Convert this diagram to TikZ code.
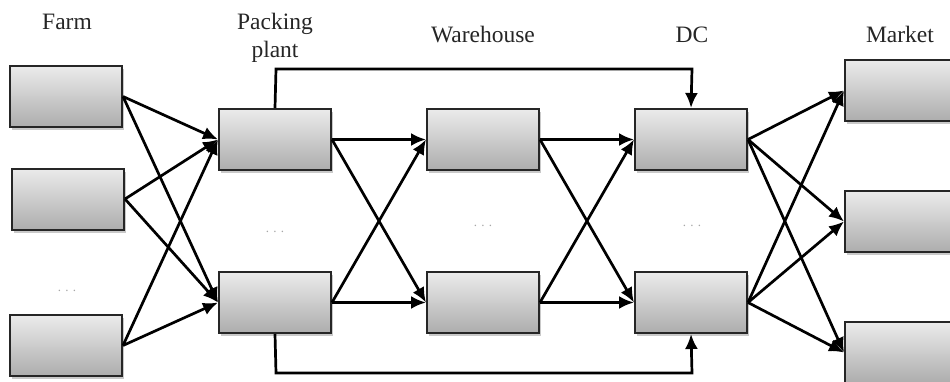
\documentclass[tikz,border=0pt]{standalone}
\usepackage{fontspec}
\setmainfont{Liberation Serif}
\usetikzlibrary{arrows.meta,shadows}
\begin{document}
\begin{tikzpicture}[x=1pt,y=-1pt,
  box/.style={draw=black!85,line width=2pt,minimum width=112pt,minimum height=61pt,inner sep=0pt,
    top color=black!8,bottom color=black!32,
    drop shadow={shadow xshift=1.5pt,shadow yshift=-3pt,opacity=0.35,fill=black!60}},
  lab/.style={font=\fontsize{23.5}{28}\selectfont,anchor=base,inner sep=0pt,text=black!85},
  dots/.style={font=\fontsize{13}{13}\selectfont,text=black!35,inner sep=0pt},
  arr/.style={line width=2.7pt,-{Latex[length=15pt,width=13pt]}},
  lnk/.style={line width=2.7pt}]
\clip (0,0) rectangle (950,381);
\fill[white] (0,0) rectangle (950,381);
% labels
\node[lab] (lfarm) at (67,29) {Farm};
\node[lab] (lpack) at (275,29) {Packing};
\node[lab] (lplant) at (275,57) {plant};
\node[lab] (lware) at (483,42) {Warehouse};
\node[lab] (ldc) at (692,42) {DC};
\node[lab] (lmkt) at (900,42) {Market};
% boxes
\node[box] (F1) at (66,96.5) {};
\node[box] (F2) at (68,199) {};
\node[box] (F3) at (66,345.5) {};
\node[box] (P1) at (275,139.5) {};
\node[box] (P2) at (275,302.5) {};
\node[box] (W1) at (483,139.5) {};
\node[box] (W2) at (483,302.5) {};
\node[box] (D1) at (691,139.5) {};
\node[box] (D2) at (691,302.5) {};
\node[box] (M1) at (901,90.5) {};
\node[box] (M2) at (901,221.5) {};
\node[box] (M3) at (901,352.5) {};
% dots
\node[dots] (d1) at (67,291) {. . .};
\node[dots] (d2) at (275,232) {. . .};
\node[dots] (d3) at (483,226) {. . .};
\node[dots] (d4) at (692,226) {. . .};
% bypass routes
\coordinate (tA) at (276,69);
\coordinate (tB) at (692,69);
\coordinate (bA) at (276,373);
\coordinate (bB) at (692,373);
\draw[arr] (P1.north) -- (tA) -- (tB) -- (D1.north);
\draw[arr] (P2.south) -- (bA) -- (bB) -- (D2.south);
% connectors
\foreach \a in {F1,F2,F3}{\foreach \b in {P1,P2}{\draw[arr] (\a.east) -- (\b.west);}}
\foreach \a in {P1,P2}{\foreach \b in {W1,W2}{\draw[arr] (\a.east) -- (\b.west);}}
\foreach \a in {W1,W2}{\foreach \b in {D1,D2}{\draw[arr] (\a.east) -- (\b.west);}}
\foreach \a in {D1,D2}{\foreach \b in {M1,M2,M3}{\draw[arr] (\a.east) -- (\b.west);}}
\end{tikzpicture}
\end{document}
